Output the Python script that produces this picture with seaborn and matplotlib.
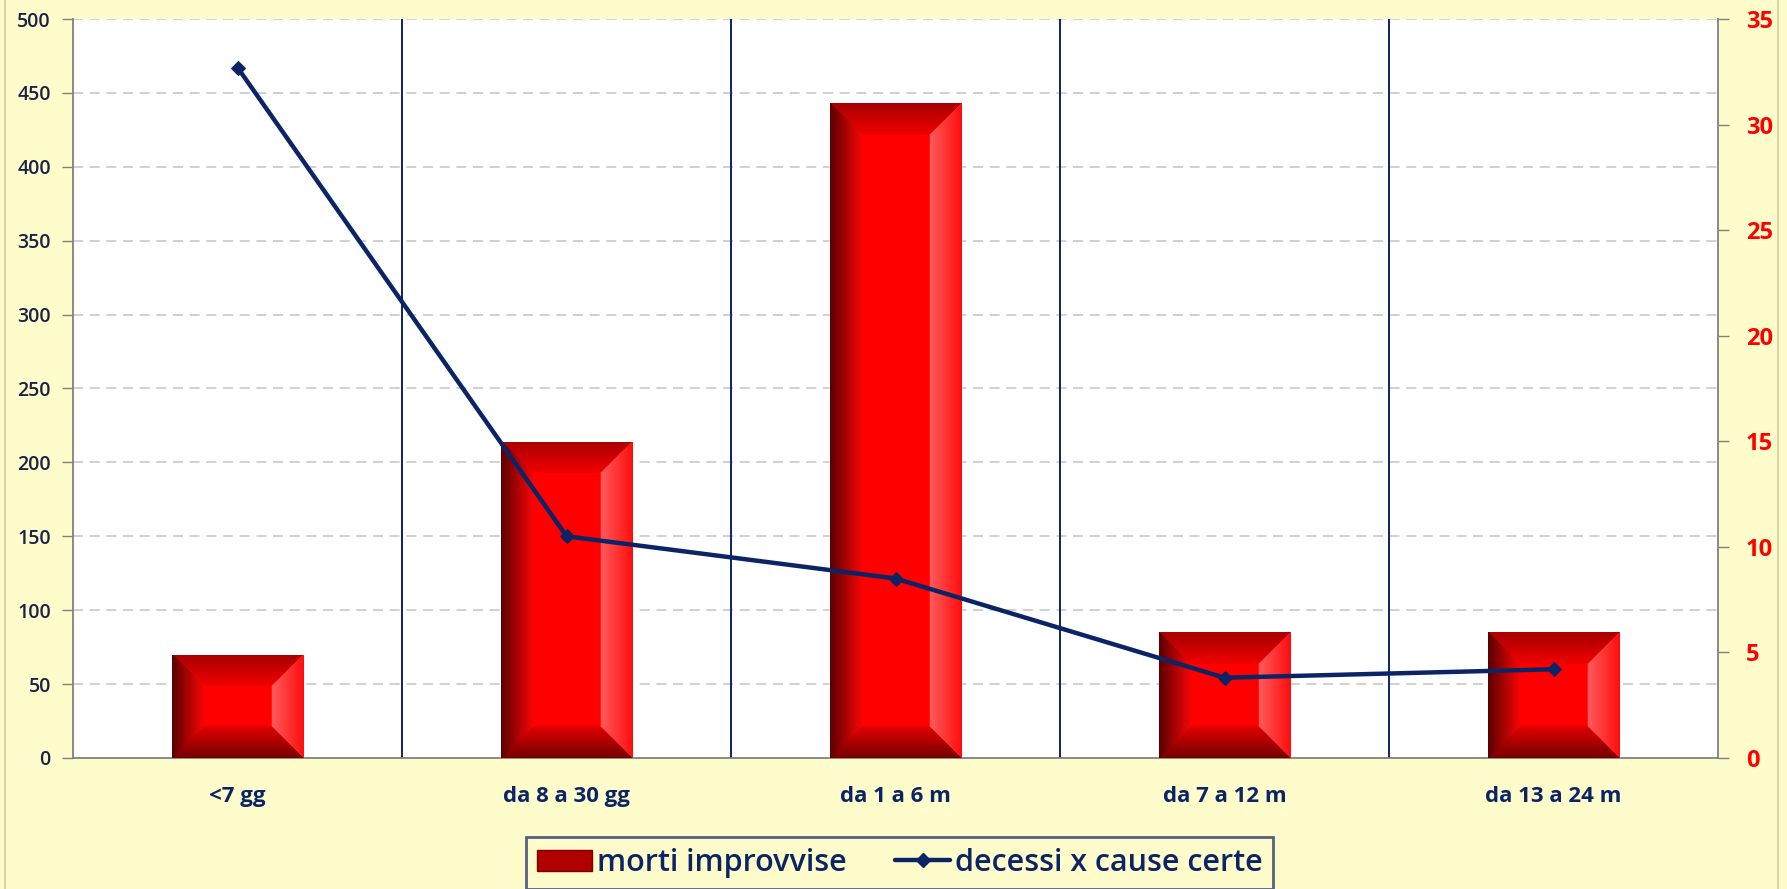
import numpy as np
import pandas as pd
import matplotlib
matplotlib.use('Agg')
import matplotlib.pyplot as plt
import seaborn as sns
from matplotlib.patches import Patch, Rectangle
from matplotlib.lines import Line2D

# --- data ---
categories = ['<7 gg', 'da 8 a 30 gg', 'da 1 a 6 m', 'da 7 a 12 m', 'da 13 a 24 m']
morti_improvvise = [70, 214, 443, 85, 85]
decessi_cause_certe = [32.7, 10.5, 8.5, 3.8, 4.2]

left_ticks = list(range(0, 501, 50))
right_ticks = list(range(0, 36, 5))

BG = '#FFFCCC'
NAVY = '#0B2466'
RED = '#FF0000'

sns.set_style('white')
plt.rcParams['font.family'] = ['Open Sans', 'DejaVu Sans']

df = pd.DataFrame({'fascia': categories,
                   'morti': morti_improvvise,
                   'decessi': decessi_cause_certe})

W, H, DPI = 17.87, 8.89, 100
fig = plt.figure(figsize=(W, H), dpi=DPI, facecolor=BG)
ax = fig.add_axes([0.0409, 0.1474, 0.9205, 0.8312])
ax.set_facecolor('white')

sns.barplot(data=df, x='fascia', y='morti', color=RED, width=0.4,
            saturation=1, ax=ax, zorder=3)
ax.set_xlim(-0.5, len(categories) - 0.5)
ax.set_ylim(0, 500)
ax.set_yticks(left_ticks)

# dashed horizontal grid
for v in left_ticks[1:]:
    ax.axhline(v, color='#C8C8C8', lw=1.2, ls=(0, (6, 4)), zorder=1)
# category separators
for b in np.arange(0.5, len(categories) - 0.5, 1):
    ax.axvline(b, color=NAVY, lw=1.4, zorder=2)


def bevel_image(w_px, h_px, b):
    ys, xs = np.mgrid[0:h_px, 0:w_px] + 0.5
    d = np.stack([xs, w_px - xs, ys, h_px - ys])
    idx = d.argmin(0)
    t = np.clip(d.min(0) / b, 0, 1)[..., None]
    img = np.zeros((h_px, w_px, 3))
    img[:] = [1.0, 0.0, 0.0]
    edge_inner = {
        0: ([0.35, 0.0, 0.0], [0.97, 0.02, 0.02]),   # left
        1: ([1.0, 0.05, 0.05], [1.0, 0.36, 0.36]),   # right
        2: ([0.65, 0.0, 0.0], [0.95, 0.0, 0.0]),     # top
        3: ([0.45, 0.0, 0.0], [0.9, 0.0, 0.0]),      # bottom
    }
    inside = (t[..., 0] >= 1)
    for k, (e, i) in edge_inner.items():
        e = np.array(e); i = np.array(i)
        m = (idx == k) & ~inside
        col = e + (i - e) * t
        img[m] = col[m]
    return img


# bevelled 3D look on each bar
for p in list(ax.patches):
    x0, y0 = p.get_x(), p.get_y()
    w, h = p.get_width(), p.get_height()
    (px0, py0), (px1, py1) = ax.transData.transform([(x0, y0), (x0 + w, y0 + h)])
    wp, hp = max(int(px1 - px0), 2), max(int(py1 - py0), 2)
    bev = min(32, wp / 2 - 1, hp / 2 - 1)
    im = ax.imshow(bevel_image(wp, hp, bev), extent=(x0, x0 + w, y0, y0 + h),
                   aspect='auto', origin='upper', zorder=4, interpolation='bilinear')
    im.set_clip_path(p)
    ax.set_xlim(-0.5, len(categories) - 0.5)
    ax.set_ylim(0, 500)

# right axis line
ax2 = ax.twinx()
sns.lineplot(data=df, x='fascia', y='decessi', ax=ax2, color=NAVY, lw=3.2,
             marker='D', markersize=7, markeredgecolor=NAVY, zorder=6)
ax2.set_ylim(0, 35)
ax2.set_yticks(right_ticks)
ax2.set_xlim(-0.5, len(categories) - 0.5)
ax2.set_ylabel('')
ax.set_xlabel('')
ax.set_ylabel('')

for a in (ax, ax2):
    for s in a.spines.values():
        s.set_visible(False)
ax.spines['left'].set_visible(True)
ax.spines['bottom'].set_visible(True)
ax2.spines['right'].set_visible(True)
for s in (ax.spines['left'], ax.spines['bottom'], ax2.spines['right']):
    s.set_color('#808080')
    s.set_linewidth(1.3)

ax.tick_params(axis='y', length=8, width=1, color='#808080', pad=8,
               labelsize=14, labelcolor='#1A2248')
for t in ax.get_yticklabels():
    t.set_fontweight('semibold')
ax2.tick_params(axis='y', length=8, width=1, color='#808080', pad=12,
                labelsize=17, labelcolor=RED)
for t in ax2.get_yticklabels():
    t.set_fontweight('bold')

ax.set_xticks(range(len(categories)))
ax.set_xticklabels(categories)
ax.set_xticks(np.arange(-0.5, len(categories), 1), minor=True)
ax.tick_params(axis='x', which='major', length=0, pad=20, labelsize=16,
               labelcolor=NAVY)
ax.tick_params(axis='x', which='minor', length=7, width=1, color='#808080')
for t in ax.get_xticklabels():
    t.set_fontweight('bold')

handles = [Patch(facecolor='#B00000', edgecolor='#7A0000'),
           Line2D([0], [0], color=NAVY, lw=3.2, marker='D', markersize=7)]
leg = fig.legend(handles, ['morti improvvise', 'decessi x cause certe'],
                 loc='upper center', bbox_to_anchor=(0.5035, 0.058), ncol=2,
                 frameon=True, fancybox=False, fontsize=22, handlelength=1.8,
                 handletextpad=0.15, columnspacing=1.6, borderpad=0.35,
                 borderaxespad=0, labelcolor=NAVY)
leg.get_frame().set_facecolor(BG)
leg.get_frame().set_edgecolor('#2B3A6E')
leg.get_frame().set_linewidth(2)
for t in leg.get_texts():
    t.set_fontweight('semibold')

# outer chart border
fig.add_artist(Rectangle((0.003, -0.01), 0.992, 1.02, transform=fig.transFigure,
                         fill=False, edgecolor='#D9D4A8', lw=1.5))

fig.savefig('out.png', dpi=DPI, facecolor=BG)
